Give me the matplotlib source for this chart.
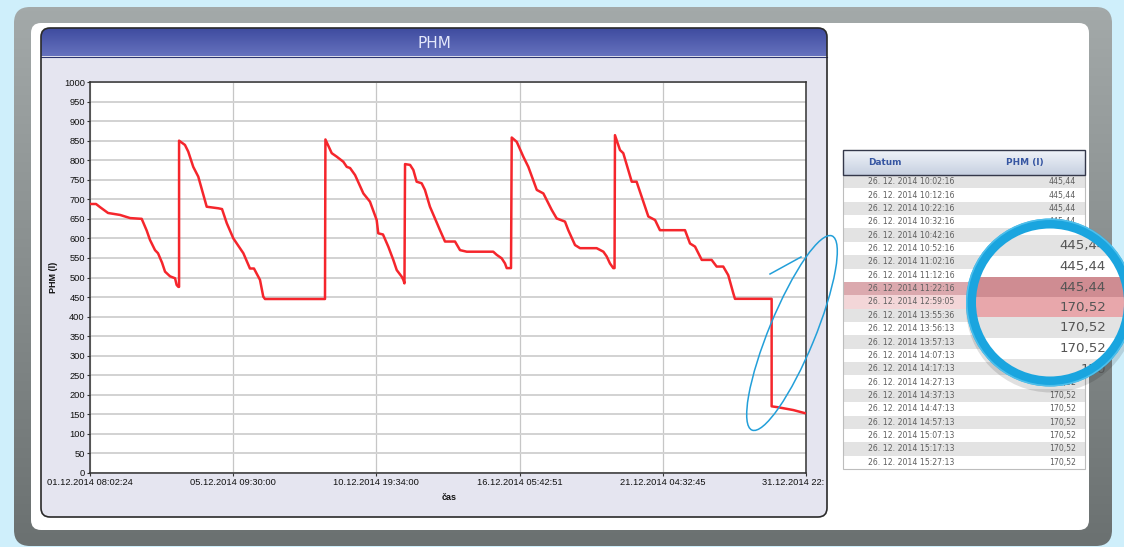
import numpy as np
import matplotlib
matplotlib.use('Agg')
import matplotlib.pyplot as plt
from matplotlib.patches import FancyBboxPatch, Rectangle, Circle, Ellipse
from matplotlib.colors import LinearSegmentedColormap

# ---------------- data ----------------
idx = [0, 4.2, 7, 12.6, 21, 28, 36.1, 39.6, 41.9, 45.4, 47.5, 50.3, 52.4, 55.9, 59.4, 60.5, 61.7, 62.2,
       62.2, 66.3, 68.6, 72.1, 75.6, 81.5, 89.6, 92.2, 95.5, 100.1, 107.1, 111.7, 114.5, 118.7, 121.0, 122.2, 164.1,
       164.4, 168.8, 172.3, 176.9, 179.3, 181.6, 185.1, 190.9, 195.5, 200.2, 201.3, 204.6, 208.3, 211.8, 214.2, 217.7, 218.8, 219.6,
       220.0, 223.5, 225.8, 228.1, 231.6, 233.9, 237.4, 240.9, 244.4, 247.9, 254.9, 258.4, 263.1, 281.6, 284.0, 287.5, 289.8, 291.0, 294.0,
       294.5, 298.0, 302.6, 306.1, 312.0, 316.6, 322.4, 325.9, 331.7, 334.0, 338.7, 342.2, 353.8, 358.5, 360.8, 363.1, 365.4, 366.3,
       366.6, 370.1, 372.4, 378.3, 381.7, 389.9, 394.6, 398.0, 415.5, 419.0, 422.5, 427.2, 434.1, 437.6, 442.2, 445.7, 449.2, 450.4, 476.0,
       476.0, 480.7, 491.1, 499.3]
phm = [688, 688, 680, 665, 660, 652, 650, 620, 596, 570, 562, 538, 515, 503, 498, 481, 476, 476,
       850, 839, 822, 783, 758, 681, 677, 675, 639, 600, 562, 523, 523, 494, 451, 445, 445,
       853, 818, 809, 796, 783, 780, 762, 715, 694, 647, 613, 610, 579, 545, 519, 502, 494, 485,
       790, 788, 775, 745, 741, 724, 681, 651, 621, 592, 592, 570, 566, 566, 558, 549, 536, 524, 524,
       858, 847, 809, 783, 724, 715, 673, 651, 643, 621, 583, 575, 575, 566, 554, 536, 524, 524,
       864, 826, 818, 745, 745, 656, 647, 621, 621, 587, 579, 545, 545, 528, 528, 506, 460, 445.44, 445.44,
       170.52, 168, 161, 153]

y_ticks = list(range(0, 1001, 50))
x_tick_pos = [0, 100, 200, 300, 400, 500]
x_tick_labels = ['01.12.2014 08:02:24', '05.12.2014 09:30:00', '10.12.2014 19:34:00',
                 '16.12.2014 05:42:51', '21.12.2014 04:32:45', '31.12.2014 22:']
chart_title = 'PHM'
y_label = 'PHM (l)'
x_label = 'čas'

table_header = ['Datum', 'PHM (l)']
table_dates = ['26. 12. 2014 10:02:16', '26. 12. 2014 10:12:16', '26. 12. 2014 10:22:16',
               '26. 12. 2014 10:32:16', '26. 12. 2014 10:42:16', '26. 12. 2014 10:52:16',
               '26. 12. 2014 11:02:16', '26. 12. 2014 11:12:16', '26. 12. 2014 11:22:16',
               '26. 12. 2014 12:59:05', '26. 12. 2014 13:55:36', '26. 12. 2014 13:56:13',
               '26. 12. 2014 13:57:13', '26. 12. 2014 14:07:13', '26. 12. 2014 14:17:13',
               '26. 12. 2014 14:27:13', '26. 12. 2014 14:37:13', '26. 12. 2014 14:47:13',
               '26. 12. 2014 14:57:13', '26. 12. 2014 15:07:13', '26. 12. 2014 15:17:13',
               '26. 12. 2014 15:27:13']
table_values = ['445,44'] * 9 + ['170,52'] * 13
# values seen through the magnifier (top row hidden, bottom row cut by the rim)
zoom_values = ['', '445,44', '445,44', '445,44', '170,52', '170,52', '170,52', '170']

# ---------------- figure ----------------
W, H = 1124, 547
plt.rcParams['font.family'] = ['Liberation Sans', 'DejaVu Sans']
fig = plt.figure(figsize=(W / 100, H / 100), dpi=100)
fig.patch.set_facecolor('#cfeffb')

bg = fig.add_axes([0, 0, 1, 1], zorder=0)
bg.axis('off')


def vgrad(axx, x0, y0, x1, y1, ctop, cbot, clip, z):
    cm = LinearSegmentedColormap.from_list('g', [ctop, cbot])
    im = axx.imshow(np.linspace(0, 1, 128).reshape(-1, 1), cmap=cm, extent=(x0, x1, y1, y0),
                    aspect='auto', origin='upper', zorder=z, interpolation='bilinear')
    im.set_clip_path(clip)
    return im


# gray frame
frame = FancyBboxPatch((14, 7), 1098, 539, boxstyle='round,pad=0,rounding_size=16',
                       fc='none', ec='none', transform=bg.transData)
bg.add_patch(frame)
vgrad(bg, 14, 7, 1112, 546, '#a3a9a9', '#6b7171', frame, 1)

# white panel
bg.add_patch(FancyBboxPatch((31, 23), 1058, 507, boxstyle='round,pad=0,rounding_size=10',
                            fc='white', ec='none', zorder=2))

# chart window
win = FancyBboxPatch((41, 28), 786, 489, boxstyle='round,pad=0,rounding_size=9',
                     fc='#e5e5f0', ec='none', zorder=3)
bg.add_patch(win)
vgrad(bg, 41, 28, 827, 56.5, '#3d4a9e', '#6672be', win, 4)
bg.plot([41, 827], [56.5, 56.5], color='#2c3470', lw=0.8, zorder=5)
bg.add_patch(FancyBboxPatch((41, 28), 786, 489, boxstyle='round,pad=0,rounding_size=9',
                            fc='none', ec='#2a2a2a', lw=1.2, zorder=6))
bg.text(434, 43, chart_title, color='#e4e8fb', fontsize=11, ha='center', va='center',
        family='DejaVu Sans', zorder=7)
# last (clipped) x tick label
bg.text(761.7, 478.3, x_tick_labels[-1], ha='left', va='top', fontsize=6.7, color='#111111', zorder=7)
bg.set_xlim(0, W)
bg.set_ylim(H, 0)

# ---------------- main chart ----------------
ax = fig.add_axes([90 / W, (H - 473) / H, 716 / W, 391 / H], zorder=1)
ax.set_facecolor('white')
ax.plot(idx, phm, color='#f5262c', lw=1.8, solid_joinstyle='round', solid_capstyle='round', zorder=3)
ax.set_xlim(0, 500)
ax.set_ylim(0, 1000)
ax.set_yticks(y_ticks)
ax.set_yticklabels([str(v) for v in y_ticks])
ax.set_xticks(x_tick_pos)
ax.set_xticklabels(x_tick_labels[:-1] + [''])
ax.set_axisbelow(True)
ax.grid(axis='y', color='#d2d2d2', lw=1.4)
ax.grid(axis='x', color='#c6c6c6', lw=0.9)
for s in ax.spines.values():
    s.set_color('#333333')
    s.set_linewidth(1.1)
ax.tick_params(direction='out', length=2.5, width=0.8, color='#333333', labelsize=6.7,
               labelcolor='#111111', pad=1.2)
ax.set_ylabel(y_label, fontsize=6.5, fontweight='bold', color='#111111')
ax.yaxis.set_label_coords(-0.0447, 0.5)
ax.set_xlabel(x_label, fontsize=6.5, fontweight='bold', color='#111111')
ax.xaxis.set_label_coords(0.501, -0.051)

# ---------------- overlay: table, magnifier, annotation ----------------
ov = fig.add_axes([0, 0, 1, 1], zorder=2)
ov.axis('off')
ov.set_facecolor('none')

cx, cy = 1050, 302.5
r_ring, ring_px = 79, 10

tx0, tx1 = 843, 1085
hy0, hy1 = 150, 175
by1 = 469
rh = (by1 - hy1) / len(table_dates)
for i, (d, v) in enumerate(zip(table_dates, table_values)):
    y0 = hy1 + i * rh
    yc = y0 + rh / 2
    c = '#e3e3e3' if i % 2 == 0 else '#ffffff'
    if i == 8:
        c = '#dba9ae'
    elif i == 9:
        c = '#f3d6d8'
    ov.add_patch(Rectangle((tx0, y0), tx1 - tx0, rh, fc=c, ec='none', zorder=3))
    ov.text(867.5, yc, d, ha='left', va='center', fontsize=5.6, color='#5e5e5e',
            family='DejaVu Sans', zorder=4)
    # values entirely hidden under the magnifier are not drawn
    corners = [(1049, yc - 4), (1076, yc - 4), (1049, yc + 4), (1076, yc + 4)]
    hidden = all(np.hypot(px - cx, py - cy) < r_ring + 1 for px, py in corners)
    if not hidden:
        ov.text(1076, yc, v, ha='right', va='center', fontsize=5.6, color='#5e5e5e',
                family='DejaVu Sans', zorder=4)
ov.add_patch(Rectangle((tx0, hy1), tx1 - tx0, by1 - hy1, fc='none', ec='#bdbdbd', lw=0.8, zorder=5))
hdr = Rectangle((tx0, hy0), tx1 - tx0, hy1 - hy0, fc='none', ec='none', transform=ov.transData)
ov.add_patch(hdr)
vgrad(ov, tx0, hy0, tx1, hy1, '#f0f3f9', '#c6d0e0', hdr, 3)
ov.add_patch(Rectangle((tx0, hy0), tx1 - tx0, hy1 - hy0, fc='none', ec='#34384a', lw=1.0, zorder=5))
ov.text(867.7, 162.5, table_header[0], ha='left', va='center', fontsize=6.4, fontweight='bold',
        color='#3656a2', family='DejaVu Sans', zorder=6)
ov.text(1005.7, 162.5, table_header[1], ha='left', va='center', fontsize=6.4, fontweight='bold',
        color='#3656a2', family='DejaVu Sans', zorder=6)

# annotation ellipse around the drop
ov.add_patch(Ellipse((792, 333), 210, 46, angle=-67.6, fc='none', ec='#229fd9', lw=1.1, zorder=8))
ov.plot([770, 801], [274, 257], color='#229fd9', lw=1.1, zorder=8)

# magnifier
ov.add_patch(Circle((cx + 1, cy + 5), 85, fc='black', ec='none', alpha=0.12, zorder=10))
inner = Circle((cx, cy), 75, fc='white', ec='none', zorder=11)
ov.add_patch(inner)
bounds = [214, 235, 256, 277, 297, 317, 338, 359, 380]
zcols = ['#ffffff', '#e3e3e3', '#ffffff', '#cf8c92', '#e8a7ab', '#e3e3e3', '#ffffff', '#e3e3e3']
for k in range(len(zcols)):
    r = Rectangle((960, bounds[k]), 180, bounds[k + 1] - bounds[k], fc=zcols[k], ec='none', zorder=11.5)
    ov.add_patch(r)
    r.set_clip_path(inner)
    if zoom_values[k]:
        ov.text(1106, (bounds[k] + bounds[k + 1]) / 2, zoom_values[k], ha='right', va='center',
                fontsize=9.6, color='#555555', family='DejaVu Sans', zorder=12)
ov.add_patch(Circle((cx, cy), r_ring, fc='none', ec='#1aa5df', lw=ring_px * 0.72, zorder=13))
ov.add_patch(Circle((cx, cy), r_ring + ring_px / 2 - 0.8, fc='none', ec='#5cc6ef', lw=1.1,
                    zorder=13.5, alpha=0.8))

ov.set_xlim(0, W)
ov.set_ylim(H, 0)

fig.savefig('out.png', dpi=100, facecolor=fig.get_facecolor())
